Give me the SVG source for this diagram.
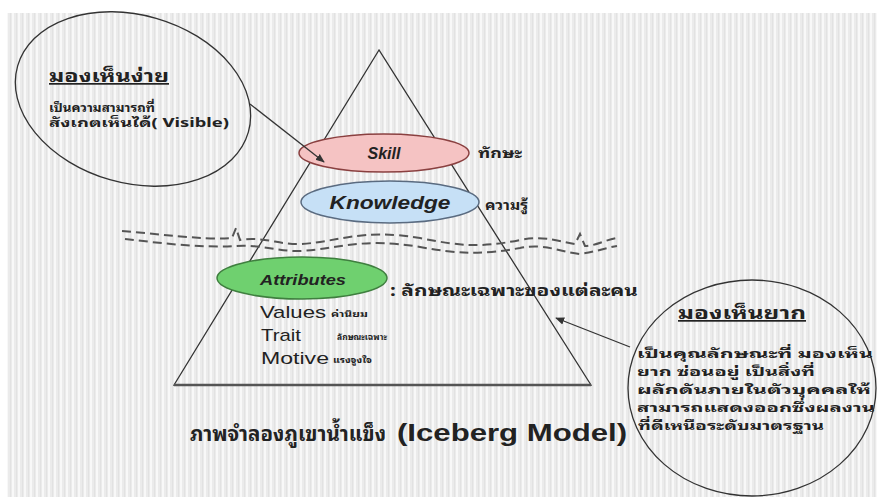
<svg xmlns="http://www.w3.org/2000/svg" width="877" height="497" viewBox="0 0 877 497">
<defs>
<pattern id="stripes" width="6" height="10" patternUnits="userSpaceOnUse">
<rect width="6" height="10" fill="#ebebeb"/>
<rect x="0" width="2" height="10" fill="#f8f8f8"/>
<rect x="4" width="1" height="10" fill="#e2e2e2"/>
</pattern>
<marker id="arr" viewBox="0 0 10 10" refX="9" refY="5" markerWidth="7" markerHeight="7" orient="auto">
<path d="M0,1 L10,5 L0,9 z" fill="#333"/>
</marker>
<style>
.thai{font-family:"Noto Sans Thai Looped","Noto Sans Thai","Loma","Garuda","Noto Sans","DejaVu Sans",sans-serif;fill:#222}
.lat{font-family:"Liberation Sans",Arial,sans-serif;fill:#222}
.line{stroke:#333;stroke-width:1.3;fill:none}
.wave{stroke:#555;stroke-width:2;fill:none;stroke-dasharray:9 5}
</style>
</defs>
<rect width="877" height="497" fill="#fff"/>
<rect x="7" y="13" width="870" height="484" fill="url(#stripes)"/>

<g id="triangle">
<path d="M379,50 L174,385 L591,385 Z" class="line"/>
<line x1="174" y1="385" x2="591" y2="385" stroke="#555" stroke-width="2.5"/>
</g>

<g id="waterline">
<path class="wave" d="M122,231 C160,234 200,240 232,238 L236,228 L240,240 C262,236 280,245 300,244 C340,242 360,228 420,238 C460,246 480,248 520,240 C545,235 560,242 575,244 L580,234 L585,246 C595,246 605,240 617,238"/>
<path class="wave" d="M125,239 C160,243 200,248 235,246 C260,244 280,252 300,251 C340,249 360,237 420,247 C460,254 480,255 520,248 C545,243 560,252 580,254 C595,252 605,248 617,246"/>
</g>

<g id="skill">
<ellipse cx="384" cy="153" rx="85" ry="19" fill="#f5c3c3" stroke="#8a4040" stroke-width="1.5"/>
<text x="384" y="159" text-anchor="middle" class="lat" font-size="16" font-weight="bold" font-style="italic">Skill</text>
<text x="478" y="158" class="thai" font-size="14" font-weight="bold" textLength="44" lengthAdjust="spacingAndGlyphs">ทักษะ</text>
</g>

<g id="knowledge">
<ellipse cx="390" cy="202" rx="89" ry="21" fill="#c6e0f6" stroke="#5a6b80" stroke-width="1.5"/>
<text x="390" y="209" text-anchor="middle" class="lat" font-size="19" font-weight="bold" font-style="italic" textLength="121" lengthAdjust="spacingAndGlyphs">Knowledge</text>
<text x="485" y="210" class="thai" font-size="14" font-weight="bold" textLength="43" lengthAdjust="spacingAndGlyphs">ความรู้</text>
</g>

<g id="attributes">
<ellipse cx="302" cy="278" rx="85" ry="21" fill="#6fd06f" stroke="#3f7f3f" stroke-width="1.5"/>
<text x="303" y="285" text-anchor="middle" class="lat" font-size="15" font-weight="bold" font-style="italic" textLength="86" lengthAdjust="spacingAndGlyphs">Attributes</text>
<text x="390" y="296" class="thai" font-size="16" font-weight="bold" textLength="248" lengthAdjust="spacingAndGlyphs">: ลักษณะเฉพาะของแต่ละคน</text>
<text x="260" y="318" class="lat" font-size="17" textLength="66" lengthAdjust="spacingAndGlyphs">Values</text>
<text x="331" y="317" class="thai" font-size="9" font-weight="bold" textLength="37" lengthAdjust="spacingAndGlyphs">ค่านิยม</text>
<text x="261" y="341" class="lat" font-size="17" textLength="40" lengthAdjust="spacingAndGlyphs">Trait</text>
<text x="337" y="340" class="thai" font-size="9" font-weight="bold" textLength="50" lengthAdjust="spacingAndGlyphs">ลักษณะเฉพาะ</text>
<text x="261" y="364" class="lat" font-size="17" textLength="68" lengthAdjust="spacingAndGlyphs">Motive</text>
<text x="333" y="363" class="thai" font-size="9" font-weight="bold" textLength="39" lengthAdjust="spacingAndGlyphs">แรงจูงใจ</text>
</g>

<g id="visible">
<ellipse cx="133" cy="99" rx="120" ry="84" transform="rotate(16 133 99)" class="line"/>
<text x="49" y="82" class="thai" font-size="17" font-weight="bold" text-decoration="underline" textLength="120" lengthAdjust="spacingAndGlyphs">มองเห็นง่าย</text>
<text x="49" y="112" class="thai" font-size="12" font-weight="bold" textLength="106" lengthAdjust="spacingAndGlyphs">เป็นความสามารถที่</text>
<text x="49" y="127" class="thai" font-size="12" font-weight="bold" textLength="180" lengthAdjust="spacingAndGlyphs">สังเกตเห็นได้( Visible)</text>
</g>

<g id="hidden">
<ellipse cx="752" cy="388" rx="124" ry="108" class="line"/>
<text x="678" y="319" class="thai" font-size="17" font-weight="bold" text-decoration="underline" textLength="128" lengthAdjust="spacingAndGlyphs">มองเห็นยาก</text>
<text x="637" y="358" class="thai" font-size="12.5" font-weight="bold" textLength="236" lengthAdjust="spacingAndGlyphs">เป็นคุณลักษณะที่ มองเห็น</text>
<text x="637" y="376" class="thai" font-size="12.5" font-weight="bold" textLength="178" lengthAdjust="spacingAndGlyphs">ยาก ซ่อนอยู่ เป็นสิ่งที่</text>
<text x="637" y="394" class="thai" font-size="12.5" font-weight="bold" textLength="234" lengthAdjust="spacingAndGlyphs">ผลักดันภายในตัวบุคคลให้</text>
<text x="637" y="412" class="thai" font-size="12.5" font-weight="bold" textLength="238" lengthAdjust="spacingAndGlyphs">สามารถแสดงออกซึ่งผลงาน</text>
<text x="638" y="430" class="thai" font-size="12.5" font-weight="bold" textLength="186" lengthAdjust="spacingAndGlyphs">ที่ดีเหนือระดับมาตรฐาน</text>
</g>

<g id="connectors">
<line x1="250" y1="104" x2="324" y2="162" class="line" marker-end="url(#arr)"/>
<line x1="630" y1="347" x2="556" y2="318" class="line" marker-end="url(#arr)"/>
</g>

<g id="caption">
<text x="190" y="441" class="thai" font-size="20" font-weight="bold" textLength="196" lengthAdjust="spacingAndGlyphs">ภาพจำลองภูเขาน้ำแข็ง</text>
<text x="397" y="441" class="lat" font-size="23" font-weight="bold" textLength="230" lengthAdjust="spacingAndGlyphs">(Iceberg Model)</text>
</g>
</svg>
